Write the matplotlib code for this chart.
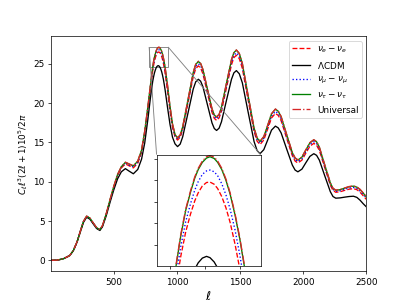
import matplotlib
matplotlib.use("Agg")
import matplotlib.pyplot as plt
from mpl_toolkits.axes_grid1.inset_locator import mark_inset

ell = [2, 50, 100, 150, 180, 210, 235, 260, 285, 311, 337, 364, 390, 410, 440, 470,
       500, 530, 560, 592, 623, 655, 690, 720, 745, 770, 790, 808, 815, 822, 829, 835, 840,
       846, 852, 857, 863, 868, 874, 880, 886, 893, 900, 907, 925, 945, 965, 985, 1005, 1026, 1046,
       1088, 1129, 1149, 1170, 1188, 1206, 1242, 1278, 1296, 1314, 1334, 1353, 1392,
       1432, 1451, 1471, 1494, 1518, 1564, 1611, 1635, 1658, 1688, 1719, 1749, 1780,
       1802, 1825, 1869, 1914, 1936, 1958, 1990, 2021, 2053, 2084, 2106, 2128, 2171,
       2215, 2236, 2258, 2293, 2328, 2363, 2398, 2425, 2450, 2475, 2500]

nu_e = [0, 0.03, 0.2, 0.6, 1.24, 2.39, 3.68, 4.92, 5.59, 5.34, 4.73, 4.13, 3.88, 4.36, 5.84, 7.61,
        9.29, 10.76, 11.74, 12.25, 12.0, 11.75, 12.34, 13.71, 16.03, 19.1, 21.8, 24.05, 24.74, 25.3, 25.72, 26.02, 26.21,
        26.37, 26.45, 26.46, 26.41, 26.31, 26.12, 25.86, 25.52, 25.02, 24.43, 23.74, 21.6, 19.03, 16.89, 15.7, 15.28, 15.63, 16.65,
        19.99, 23.32, 24.34, 24.7, 24.43, 23.69, 21.24, 18.79, 18.04, 17.78, 18.09, 18.98, 21.91,
        24.84, 25.74, 26.05, 25.62, 24.4, 20.38, 16.37, 15.14, 14.71, 15.29, 16.69, 18.09, 18.66,
        18.42, 17.75, 15.52, 13.29, 12.61, 12.37, 12.73, 13.62, 14.5, 14.86, 14.63, 13.96, 11.76,
        9.55, 8.88, 8.65, 8.72, 8.89, 9.04, 9.11, 8.98, 8.66, 8.21, 7.75]

lcdm = [0, 0.03, 0.2, 0.6, 1.23, 2.35, 3.6, 4.82, 5.48, 5.24, 4.64, 4.05, 3.8, 4.25, 5.65, 7.35,
        8.95, 10.35, 11.25, 11.65, 11.32, 11.0, 11.55, 12.85, 14.9, 17.9, 20.6, 22.7, 23.29, 23.8, 24.17, 24.43, 24.58,
        24.69, 24.73, 24.70, 24.6, 24.46, 24.22, 23.92, 23.52, 22.98, 22.31, 21.6, 19.5, 17.3, 15.65, 14.8, 14.45, 14.77, 15.7,
        18.73, 21.75, 22.68, 23.0, 22.75, 22.05, 19.75, 17.45, 16.75, 16.5, 16.79, 17.61, 20.3,
        22.99, 23.81, 24.1, 23.7, 22.56, 18.83, 15.09, 13.95, 13.55, 14.06, 15.3, 16.54, 17.05,
        16.83, 16.2, 14.15, 12.1, 11.47, 11.25, 11.59, 12.4, 13.21, 13.55, 13.34, 12.73, 10.73,
        8.72, 8.11, 7.9, 7.94, 8.03, 8.11, 8.15, 8.0, 7.65, 7.2, 6.8]

nu_mu = [0, 0.03, 0.2, 0.6, 1.25, 2.39, 3.69, 4.93, 5.6, 5.35, 4.74, 4.14, 3.89, 4.38, 5.87, 7.65,
         9.34, 10.83, 11.82, 12.35, 12.1, 11.87, 12.46, 13.85, 16.2, 19.29, 21.99, 24.27, 24.97, 25.54, 25.96, 26.27, 26.47,
         26.64, 26.72, 26.74, 26.7, 26.61, 26.42, 26.16, 25.83, 25.35, 24.76, 24.08, 21.94, 19.3, 17.09, 15.84, 15.41, 15.77, 16.8,
         20.19, 23.57, 24.6, 24.97, 24.7, 23.95, 21.47, 19.0, 18.25, 17.98, 18.3, 19.2, 22.17,
         25.14, 26.05, 26.36, 25.93, 24.69, 20.63, 16.57, 15.33, 14.9, 15.49, 16.91, 18.33, 18.92,
         18.67, 17.99, 15.73, 13.47, 12.79, 12.55, 12.91, 13.81, 14.71, 15.07, 14.84, 14.16, 11.92,
         9.69, 9.01, 8.77, 8.84, 9.02, 9.19, 9.26, 9.13, 8.82, 8.37, 7.9]

nu_tau = [0, 0.03, 0.2, 0.6, 1.25, 2.4, 3.7, 4.95, 5.62, 5.37, 4.76, 4.15, 3.9, 4.4, 5.9, 7.7,
          9.4, 10.9, 11.9, 12.45, 12.22, 12.0, 12.6, 14.0, 16.4, 19.5, 22.2, 24.5, 25.22, 25.8, 26.23, 26.55, 26.75,
          26.92, 27.02, 27.05, 27.01, 26.92, 26.75, 26.5, 26.18, 25.7, 25.13, 24.45, 22.3, 19.6, 17.3, 16.0, 15.55, 15.92, 16.97,
          20.41, 23.84, 24.89, 25.26, 24.99, 24.23, 21.73, 19.23, 18.47, 18.2, 18.52, 19.44, 22.45,
          25.46, 26.38, 26.7, 26.26, 25.01, 20.9, 16.79, 15.54, 15.1, 15.7, 17.15, 18.6, 19.2,
          18.95, 18.26, 15.97, 13.68, 12.99, 12.74, 13.11, 14.02, 14.93, 15.3, 15.06, 14.37, 12.1,
          9.83, 9.14, 8.9, 8.98, 9.17, 9.35, 9.43, 9.3, 9.0, 8.55, 8.06]

universal = [0, 0.03, 0.2, 0.6, 1.25, 2.4, 3.7, 4.95, 5.63, 5.38, 4.77, 4.16, 3.91, 4.41, 5.91, 7.71,
             9.41, 10.91, 11.91, 12.47, 12.24, 12.02, 12.62, 14.02, 16.42, 19.53, 22.23, 24.53, 25.25, 25.83, 26.26, 26.58, 26.78,
             26.95, 27.05, 27.08, 27.04, 26.95, 26.78, 26.53, 26.21, 25.73, 25.16, 24.48, 22.33, 19.63, 17.32, 16.02, 15.57, 15.94, 16.99,
             20.44, 23.87, 24.92, 25.29, 25.02, 24.26, 21.76, 19.26, 18.5, 18.23, 18.55, 19.47, 22.48,
             25.49, 26.41, 26.73, 26.29, 25.04, 20.93, 16.82, 15.57, 15.13, 15.73, 17.18, 18.63, 19.23,
             18.98, 18.29, 16.0, 13.71, 13.02, 12.77, 13.14, 14.05, 14.96, 15.33, 15.09, 14.4, 12.13,
             9.86, 9.17, 8.93, 9.01, 9.2, 9.38, 9.46, 9.33, 9.03, 8.58, 8.09]

labels = [r'$\nu_e-\nu_e$', r'$\Lambda$CDM', r'$\nu_\mu-\nu_\mu$', r'$\nu_\tau-\nu_\tau$', 'Universal']
series = [nu_e, lcdm, nu_mu, nu_tau, universal]
styles = [dict(color='red', ls='--'), dict(color='black', ls='-'), dict(color='blue', ls=':'),
          dict(color='green', ls='-'), dict(color='#d62728', ls='-.')]

fig = plt.figure(figsize=(6.4, 4.8), dpi=63.6)
ax = fig.add_subplot(111)
for s, lab, st in zip(series, labels, styles):
    ax.plot(ell, s, label=lab, lw=1.5, **st)
ax.set_xlim(2, 2500)
ax.set_ylim(-1.4, 28.45)
ax.set_xlabel(r'$\ell$', fontsize=14)
ax.set_ylabel(r'$C_\ell\ell^3(2\ell+1)10^5/2\pi$')
ax.legend(loc='upper right')

axins = ax.inset_axes([0.335, 0.022, 0.33, 0.475])
for s, st in zip(series, styles):
    axins.plot(ell, s, lw=1.5, **st)
axins.set_xlim(780, 930)
axins.set_ylim(24.5, 27.1)
axins.set_xticks([800, 850, 900])
axins.set_yticks([25, 25.5, 26, 26.5, 27])
axins.set_xticklabels([])
axins.set_yticklabels([])
mark_inset(ax, axins, loc1=1, loc2=2, fc='none', ec='0.5')

fig.savefig('out.png', dpi=63.6)
